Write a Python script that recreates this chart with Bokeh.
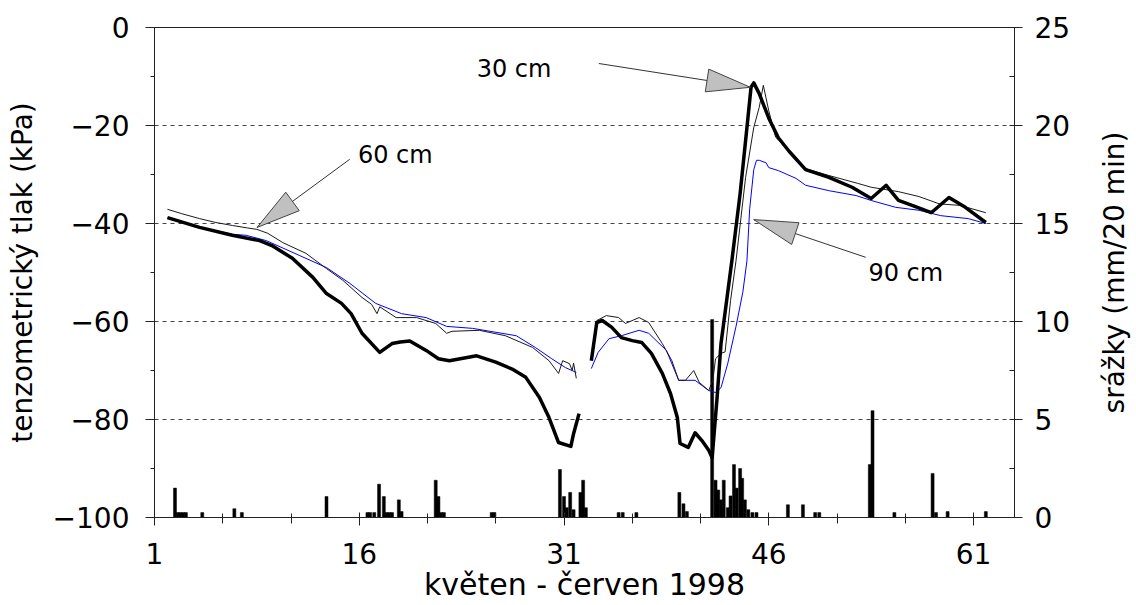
import math
from bokeh.plotting import figure
from bokeh.layouts import row
from bokeh.models import (Range1d, LinearAxis, SingleIntervalTicker, FixedTicker)
from bokeh.core.properties import value
from bokeh.embed import file_html
from bokeh.resources import INLINE

nan = float("nan")

# ---------------- data ----------------
# tenzometric pressure (kPa), depth 30 cm (thick black)
d30_day = [1.95, 4.3, 6.7, 8.7, 9.6, 11.1, 12.6, 13.6, 14.7, 15.4, 16.2, 17.5, 18.4, 19.0, 19.7,
           20.9, 21.8, 22.6, 24.6, 26.0, 27.2, 28.2, 29.2, 29.9, 30.6, 31.5, 31.7, 32.1,
           32.5,
           33.0, 33.4, 33.8, 34.5, 35.2, 36.0, 36.7, 37.4, 38.2, 38.8, 39.3, 39.5, 40.1, 40.6,
           41.1, 41.6, 41.85, 42.2, 42.5, 43.3, 43.9, 44.4, 44.7, 44.9, 45.3, 46.0, 46.7, 47.5,
           48.7, 50.4, 52.1, 53.5, 54.6, 55.5, 56.5, 57.9, 59.2, 60.4, 61.9]
d30_kpa = [-38.8, -40.8, -42.4, -43.5, -44.5, -47.1, -51.0, -54.3, -56.3, -58.4, -62.4, -66.3, -64.5, -64.2, -64.0,
           -65.9, -67.6, -68.0, -67.0, -68.3, -69.7, -71.4, -75.5, -79.6, -84.7, -85.5, -82.9, -78.8,
           nan,
           -68.0, -60.2, -59.8, -61.2, -63.3, -63.9, -64.3, -66.5, -70.6, -74.7, -79.6, -84.9, -85.7, -82.7,
           -84.3, -86.3, -87.8, -76.0, -64.5, -47.5, -33.9, -20.4, -12.2, -11.3, -13.5, -18.5, -22.5, -25.3,
           -29.0, -30.6, -32.6, -34.9, -32.2, -35.3, -36.3, -37.8, -34.7, -36.7, -39.8]

# depth 60 cm (thin black)
d60_day = [1.95, 3.0, 4.3, 5.5, 6.7, 7.8, 8.5, 9.3, 10.4, 12.1, 13.6, 14.8, 16.2, 16.9, 17.3, 17.5,
           18.7, 20.2, 21.6, 22.4, 22.8, 24.8, 26.7, 28.7, 29.9, 30.6, 30.9, 31.4, 31.6, 31.7, 31.9,
           32.6,
           33.4, 34.1, 35.0, 35.5, 36.5, 37.2, 38.2, 38.9, 39.4, 39.9, 40.5, 40.9, 41.6, 41.9, 42.1,
           42.5, 42.8, 43.2, 43.6, 44.3, 44.9, 45.3, 45.6, 46.0, 46.5, 47.5, 48.7, 50.4, 52.5, 53.5,
           55.5, 57.0, 58.5, 60.0, 61.9]
d60_kpa = [-37.1, -38.0, -39.0, -39.8, -40.4, -40.9, -41.2, -42.0, -43.9, -46.1, -49.2, -51.6, -55.1, -56.5, -58.4, -57.0,
           -59.2, -59.2, -60.4, -62.4, -62.0, -61.8, -62.9, -65.3, -68.0, -70.6, -68.0, -68.6, -70.0, -68.5, -71.6,
           nan,
           -59.8, -58.8, -59.2, -60.4, -59.2, -60.2, -64.5, -68.0, -72.0, -72.0, -70.0, -72.4, -74.1, -72.0, -67.6,
           -66.5, -66.2, -55.7, -47.6, -30.6, -20.4, -16.3, -11.8, -17.0, -22.4, -25.0, -28.8, -30.2, -31.8, -32.6,
           -33.5, -34.5, -36.0, -36.3, -37.8]

# depth 90 cm (blue)
d90_day = [1.95, 4.3, 6.7, 7.7, 9.2, 11.6, 13.6, 15.3, 17.2, 19.1, 20.9, 22.4, 24.3, 27.5, 28.9, 30.1,
           31.1, 31.9,
           32.5,
           33.0, 33.5, 34.3, 35.2, 36.5, 37.2, 38.5, 39.4, 40.6, 41.6, 42.1, 42.5, 43.0, 43.6, 44.1,
           44.4, 44.6, 44.9, 45.1, 45.3, 45.8, 46.0, 46.7, 48.0, 48.7, 50.4, 52.4, 53.5, 55.3, 57.0,
           58.6, 60.6, 61.9]
d90_kpa = [-38.8, -40.7, -42.2, -42.4, -43.5, -46.5, -49.0, -52.2, -56.3, -58.4, -59.2, -61.0, -61.4, -62.9, -65.3, -67.6,
           -69.4, -70.4,
           nan,
           -69.6, -66.3, -63.5, -62.9, -61.8, -62.4, -65.9, -72.0, -72.0, -74.1, -74.5, -73.5, -68.5, -61.0, -54.0,
           -47.6, -37.0, -29.0, -27.1, -27.1, -27.6, -28.6, -29.2, -30.8, -32.2, -33.3, -34.3, -35.3, -36.7, -37.3,
           -38.4, -39.0, -40.0]

# precipitation (mm / 20 min)
rain_day = [2.5, 2.7, 2.9, 3.1, 3.3, 4.5, 6.85, 7.4, 13.6, 16.6, 16.8, 17.1, 17.45, 17.8, 18.0, 18.2, 18.4,
            18.9, 19.1, 21.6, 21.8, 22.0, 22.2, 25.7, 25.9, 30.7, 31.0, 31.2, 31.45, 31.7, 32.2, 32.4, 32.6,
            35.0, 35.3, 36.3, 39.45, 39.75, 40.0, 41.85, 42.1, 42.3, 42.5, 42.7, 43.0, 43.2, 43.45, 43.65,
            43.9, 44.05, 44.25, 44.5, 44.8, 45.1, 47.4, 48.5, 49.4, 49.7, 53.4, 53.6, 55.2, 58.0, 58.25,
            59.1, 61.9]
rain_mm = [1.5, 0.25, 0.25, 0.25, 0.25, 0.25, 0.45, 0.25, 1.07, 0.25, 0.25, 0.25, 1.7, 1.07, 0.25, 0.25, 0.25,
           0.9, 0.3, 1.9, 1.07, 0.25, 0.25, 0.25, 0.25, 2.45, 1.07, 0.5, 1.28, 0.4, 1.28, 1.9, 0.5,
           0.25, 0.25, 0.25, 1.28, 0.7, 0.3, 10.1, 1.9, 1.4, 0.9, 1.9, 0.5, 1.1, 2.7, 1.5,
           2.5, 2.0, 0.9, 0.4, 0.25, 0.25, 0.65, 0.65, 0.25, 0.25, 2.7, 5.45, 0.25, 2.25, 0.25,
           0.3, 0.3]

x_major = [1, 16, 31, 46, 61]
x_minor = [6, 11, 21, 26, 36, 41, 51, 56]

# annotations: label text, text anchor, arrow tail, arrow tip
ann_text = ["30 cm", "60 cm", "90 cm"]
ann_tx = [24.6, 15.9, 53.3]
ann_ty = [-8.4, -26.1, -50.0]
arr_x0 = [33.55, 15.3, 53.1]
arr_y0 = [-7.35, -26.9, -46.9]
arr_x1 = [44.65, 8.52, 44.9]
arr_y1 = [-12.2, -40.8, -39.2]

# ---------------- figure ----------------
X0, X1 = 1, 64
Y0, Y1 = -100, 0
BL, BR, BT, BB = 154, 56, 27, 88
FW, FH = 863, 490
W, H = BL + FW + BR, BT + FH + BB
TOTAL_W = 1136
FONT = "DejaVu Sans"

p = figure(width=W, height=H, x_range=Range1d(X0, X1), y_range=Range1d(Y0, Y1),
           output_backend="svg", toolbar_location=None,
           min_border_left=BL, min_border_right=BR, min_border_top=BT, min_border_bottom=BB,
           background_fill_color="white", border_fill_color="white")
p.outline_line_color = "#222222"
p.outline_line_width = 1

p.extra_y_ranges = {"rain": Range1d(0, 25)}

# grid
p.xgrid.visible = False
p.ygrid.ticker = SingleIntervalTicker(interval=20)
p.ygrid.grid_line_color = "#444444"
p.ygrid.grid_line_dash = "4 4"
p.ygrid.grid_line_width = 1

# left axis
ya = p.yaxis[0]
ya.ticker = SingleIntervalTicker(interval=20, num_minor_ticks=2)
ya.axis_label = "tenzometrický tlak (kPa)"
ya.major_tick_out = 9
ya.major_tick_in = 0
ya.minor_tick_out = 4
ya.minor_tick_in = 0
ya.major_label_standoff = 16
ya.axis_label_standoff = 11

# bottom axis
xa = p.xaxis[0]
xa.ticker = FixedTicker(ticks=x_major, minor_ticks=x_minor)
xa.axis_label = "květen - červen 1998"
xa.major_tick_out = 8
xa.major_tick_in = 5
xa.minor_tick_out = 6
xa.minor_tick_in = 4
xa.major_label_standoff = 17
xa.axis_label_standoff = 0

# right axis (precipitation)
ra = LinearAxis(y_range_name="rain", ticker=SingleIntervalTicker(interval=5, num_minor_ticks=2))
ra.major_tick_out = 8
ra.major_tick_in = 4
ra.minor_tick_out = 0
ra.minor_tick_in = 5
ra.major_label_standoff = 12
p.add_layout(ra, "right")

for ax in (xa, ya, ra):
    ax.axis_line_color = "#222222"
    ax.major_tick_line_color = "#222222"
    ax.minor_tick_line_color = "#222222"
    ax.major_label_text_font = FONT
    ax.major_label_text_font_size = "28px"
    ax.major_label_text_color = "black"
    ax.axis_label_text_font = FONT
    ax.axis_label_text_font_style = "normal"
    ax.axis_label_text_color = "black"
    ax.axis_label_text_font_size = "28px"
xa.axis_label_text_font_size = "30px"

# precipitation bars
p.vbar(x=rain_day, top=rain_mm, bottom=0, width=0.22, y_range_name="rain",
       fill_color="black", line_color="black", line_width=0.5)

# tensiometer lines
p.line(d90_day, d90_kpa, line_color="#0000ff", line_width=1)
p.line(d60_day, d60_kpa, line_color="#1a1a1a", line_width=1)
p.line(d30_day, d30_kpa, line_color="black", line_width=3.5, line_join="round")

# annotation arrows (line + grey triangular head, head sized in screen pixels)
sx = FW / (X1 - X0)
sy = FH / (Y1 - Y0)
HEAD_LEN, HEAD_HALF = 44, 11.5
head_xs, head_ys = [], []
for x0, y0, x1, y1 in zip(arr_x0, arr_y0, arr_x1, arr_y1):
    dx = (x1 - x0) * sx
    dy = (y1 - y0) * sy
    n = math.hypot(dx, dy)
    ux, uy = dx / n, dy / n
    bx = x1 - ux * HEAD_LEN / sx
    by = y1 - uy * HEAD_LEN / sy
    px, py = -uy, ux
    head_xs.append([x1, bx + px * HEAD_HALF / sx, bx - px * HEAD_HALF / sx])
    head_ys.append([y1, by + py * HEAD_HALF / sy, by - py * HEAD_HALF / sy])

p.segment(x0=arr_x0, y0=arr_y0, x1=arr_x1, y1=arr_y1, line_color="#333333", line_width=1)
p.patches(head_xs, head_ys, fill_color="#c0c0c0", line_color="#444444", line_width=1)

p.text(x=ann_tx, y=ann_ty, text=ann_text, text_font=value(FONT), text_font_size="24px",
       text_align="left", text_baseline="middle", text_color="black")

# ---- narrow companion figure carrying the right-hand title (reads bottom-to-top) ----
QW = TOTAL_W - W
QBL = QW - 6
q = figure(width=QW, height=H, x_range=Range1d(0, 1), y_range=Range1d(0, 25),
           output_backend="svg", toolbar_location=None, x_axis_location=None,
           min_border_left=QBL, min_border_right=0, min_border_top=BT, min_border_bottom=BB,
           background_fill_color="white", border_fill_color="white")
q.outline_line_color = None
q.grid.visible = False
qa = q.yaxis[0]
qa.ticker = FixedTicker(ticks=[])
qa.axis_line_color = None
qa.major_tick_out = 0
qa.major_tick_in = 0
qa.minor_tick_out = 0
qa.minor_tick_in = 0
qa.major_label_standoff = 0
qa.axis_label = "srážky (mm/20 min)"
qa.axis_label_standoff = 0
qa.axis_label_text_font = FONT
qa.axis_label_text_font_style = "normal"
qa.axis_label_text_color = "black"
qa.axis_label_text_font_size = "28px"

layout = row(p, q)
open("out.html", "w").write(file_html(layout, INLINE))
